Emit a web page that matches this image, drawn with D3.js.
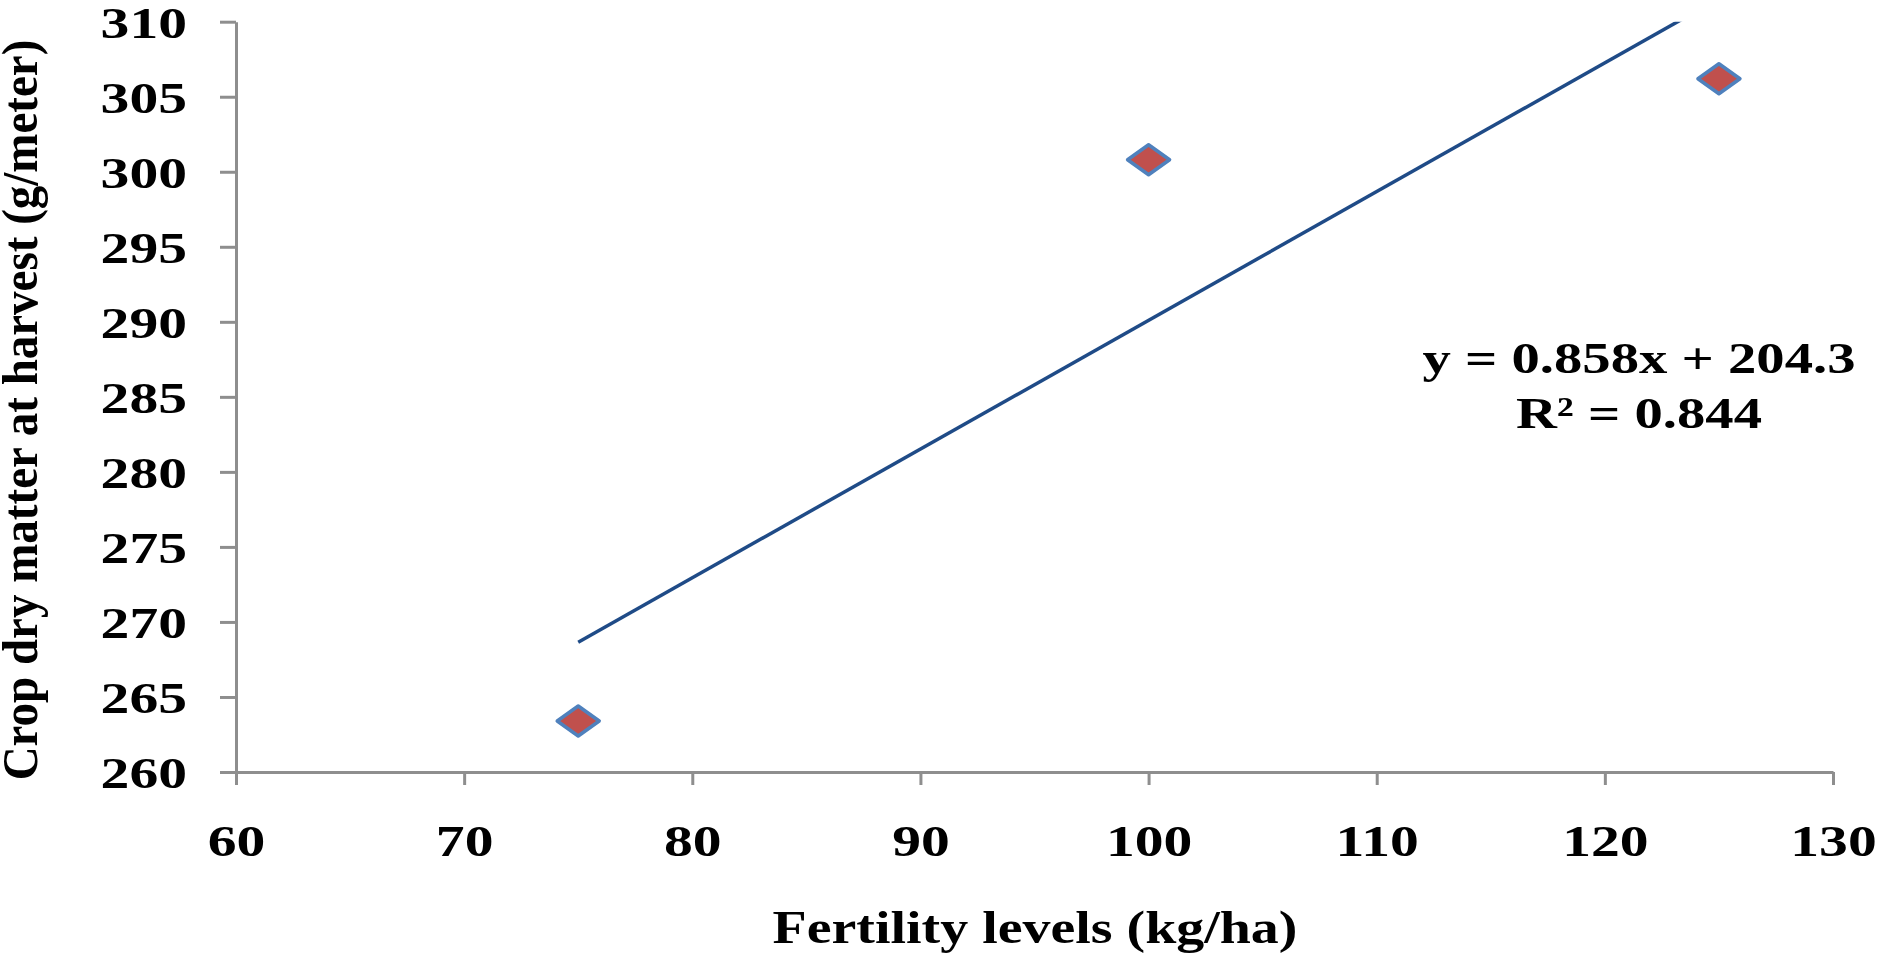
<!DOCTYPE html>
<html>
<head>
<meta charset="utf-8">
<script src="https://cdn.jsdelivr.net/npm/d3@7"></script>
<style>
  body { margin: 0; background: #fff; }
  text { font-family: "Liberation Serif", "Times New Roman", serif; font-weight: bold; fill: #000; }
</style>
</head>
<body>
<svg id="chart" width="1890" height="957"></svg>
<script>
// values
const fertility = [75, 100, 125];
const dryMatter = [263.4, 300.8, 306.2];

const xTicks = [60, 70, 80, 90, 100, 110, 120, 130];
const yTicks = [260, 265, 270, 275, 280, 285, 290, 295, 300, 305, 310];

// linear trend line, as printed on the chart
const trendSlope = 0.858;
const trendIntercept = 204.3;
const trendRange = [75, 125];
const trendLabel = ['y = 0.858x + 204.3', 'R\u00b2 = 0.844'];

const xTitle = 'Fertility levels (kg/ha)';
const yTitle = 'Crop dry matter at harvest (g/meter)';

const LEFT = 236, RIGHT = 1833, TOP = 21.7, BOTTOM = 772;
const AXIS_COLOR = '#8e8e8e';
const NUM_FONT = 45;
const STRETCH = 1.28;   // the original picture is widened horizontally

window.onload = main;

function main(){
    const svg = d3.select('#chart');

    const x = d3.scaleLinear().domain([60, 130]).range([LEFT, RIGHT]);
    const y = d3.scaleLinear().domain([260, 310]).range([BOTTOM, TOP]);

    svg.append('clipPath').attr('id', 'plotClip')
        .append('rect')
        .attr('x', LEFT).attr('y', TOP)
        .attr('width', RIGHT - LEFT).attr('height', BOTTOM - TOP);

    // axes
    const yAxis = svg.append('g')
        .attr('transform', `translate(${LEFT},0)`)
        .call(d3.axisLeft(y).tickValues(yTicks).tickSize(16).tickSizeOuter(0));
    yAxis.selectAll('text')
        .attr('x', 0).attr('dy', '0.34em')
        .attr('font-size', NUM_FONT)
        .attr('transform', `translate(-49,0) scale(${STRETCH},1)`)
        .text(d => d);

    const xAxis = svg.append('g')
        .attr('transform', `translate(0,${BOTTOM})`)
        .call(d3.axisBottom(x).tickValues(xTicks).tickSize(13).tickSizeOuter(0));
    xAxis.selectAll('text')
        .attr('y', 84).attr('dy', null)
        .attr('font-size', NUM_FONT)
        .attr('transform', `scale(${STRETCH},1)`)
        .text(d => d);

    svg.selectAll('.domain, .tick line')
        .attr('stroke', AXIS_COLOR).attr('stroke-width', 3);
    svg.selectAll('.tick text').attr('fill', '#000')
        .style('font-family', '"Liberation Serif", "Times New Roman", serif')
        .style('font-weight', 'bold');

    // trend line
    const trend = trendRange.map(v => [v, trendSlope * v + trendIntercept]);
    svg.append('path')
        .datum(trend)
        .attr('clip-path', 'url(#plotClip)')
        .attr('fill', 'none')
        .attr('stroke', '#1f4b87')
        .attr('stroke-width', 3.5)
        .attr('d', d3.line().x(d => x(d[0])).y(d => y(d[1])));

    // diamond markers
    const pts = fertility.map((f, i) => ({x: f, y: dryMatter[i]}));
    svg.selectAll('.pt').data(pts).enter()
        .append('path')
        .attr('class', 'pt')
        .attr('d', d3.symbol(d3.symbolSquare, 450))
        .attr('transform', d => `translate(${x(d.x)},${y(d.y)}) scale(1.4,1) rotate(45)`)
        .attr('fill', '#c0504d')
        .attr('stroke', '#4f81bd')
        .attr('stroke-width', 3.5)
        .attr('vector-effect', 'non-scaling-stroke')
        .attr('stroke-linejoin', 'round');

    // equation label
    svg.append('g').selectAll('text').data(trendLabel).enter()
        .append('text')
        .attr('text-anchor', 'middle')
        .attr('font-size', NUM_FONT)
        .attr('transform', (d, i) => `translate(1639,${373 + i * 55}) scale(1.26,1)`)
        .text(d => d);

    // axis titles
    svg.append('text')
        .attr('text-anchor', 'middle')
        .attr('font-size', 47)
        .attr('transform', 'translate(1035,943) scale(1.19,1)')
        .text(xTitle);

    svg.append('text')
        .attr('text-anchor', 'middle')
        .attr('font-size', 47)
        .attr('transform', 'translate(37,410) rotate(-90) scale(1,1.08)')
        .text(yTitle);
}
</script>
</body>
</html>
